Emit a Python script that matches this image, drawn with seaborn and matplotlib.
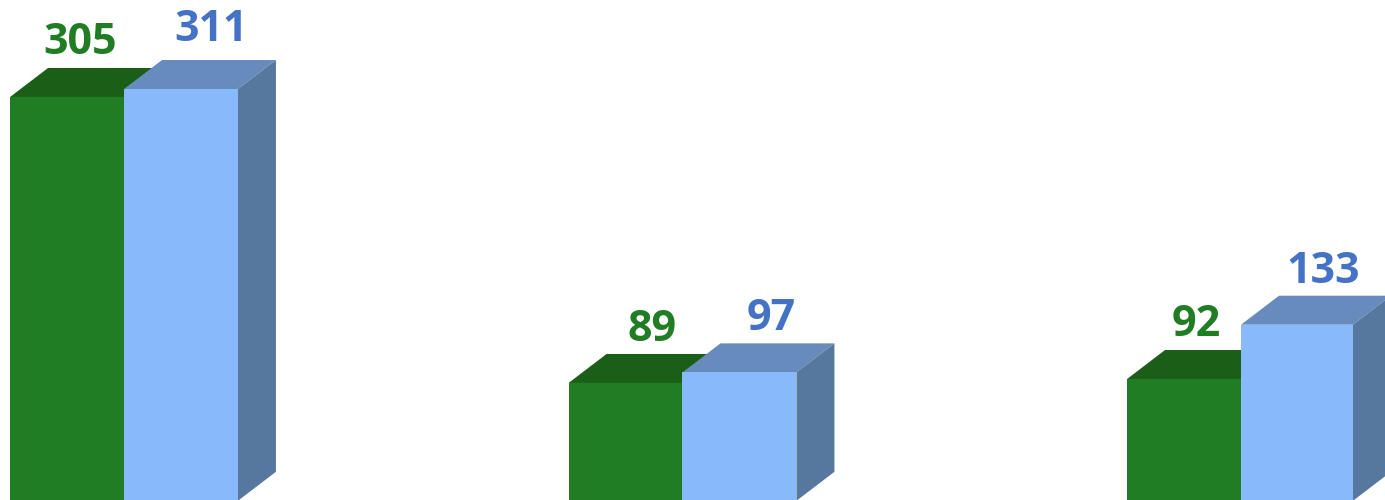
import pandas as pd
import seaborn as sns
import matplotlib.pyplot as plt

groups = ['Group 1', 'Group 2', 'Group 3']
green_values = [305, 89, 92]
blue_values = [311, 97, 133]

# label shifts from the bar's top centre, in pixels (labels were placed by hand in the original)
green_shift = [(13, 43), (27, 42), (12, 43)]
blue_shift = [(30, 48), (32, 42), (26, 42)]

front_colors = ['#217D23', '#87B9FB']
top_colors = ['#1A5E18', '#678BBD']
side_colors = ['#185416', '#56789F']
text_colors = ['#217D23', '#4472C4']

PX_X = 558.5  # pixels per group
PX_Y = 1.324  # pixels per unit
DEPTH_X = 38 / PX_X
DEPTH_Y = 29 / PX_Y

df = pd.DataFrame({
    'group': groups * 2,
    'series': ['green'] * 3 + ['blue'] * 3,
    'value': green_values + blue_values,
})

plt.rcParams['font.family'] = ['Open Sans', 'DejaVu Sans']
fig = plt.figure(figsize=(13.85, 5), dpi=100)
ax = fig.add_axes([0, 0, 1, 1])
sns.barplot(data=df, x='group', y='value', hue='series', hue_order=['green', 'blue'],
            palette=front_colors, saturation=1, width=0.408, gap=0, dodge=True,
            legend=False, linewidth=0, ax=ax)

# last blue bar is a touch narrower in the original
last_bar = ax.containers[1][2]
last_bar.set_width(last_bar.get_width() - 2 / PX_X)

shifts = [green_shift, blue_shift]
for i, container in enumerate(ax.containers):
    z = 2 + i * 2
    for bar, shift in zip(container, shifts[i]):
        bar.set_zorder(z + 1)
        x0 = bar.get_x()
        x1 = x0 + bar.get_width()
        top = bar.get_height()
        ax.fill([x0, x1, x1 + DEPTH_X, x0 + DEPTH_X], [top, top, top + DEPTH_Y, top + DEPTH_Y],
                color=top_colors[i], lw=0, zorder=z)
        ax.fill([x1, x1 + DEPTH_X, x1 + DEPTH_X, x1], [top, top + DEPTH_Y, DEPTH_Y, 0],
                color=side_colors[i], lw=0, zorder=z)
        ax.annotate(f'{top:.0f}', xy=((x0 + x1) / 2, top),
                    xytext=(shift[0] * 0.72, shift[1] * 0.72), textcoords='offset points',
                    ha='center', va='baseline', fontsize=31, fontweight='bold',
                    color=text_colors[i], zorder=8)

ax.set_xlim(-124 / PX_X, (1385 - 124) / PX_X)
ax.set_ylim(0.6, 500.8 / PX_Y)
ax.axis('off')
fig.savefig('out.png', dpi=100)
